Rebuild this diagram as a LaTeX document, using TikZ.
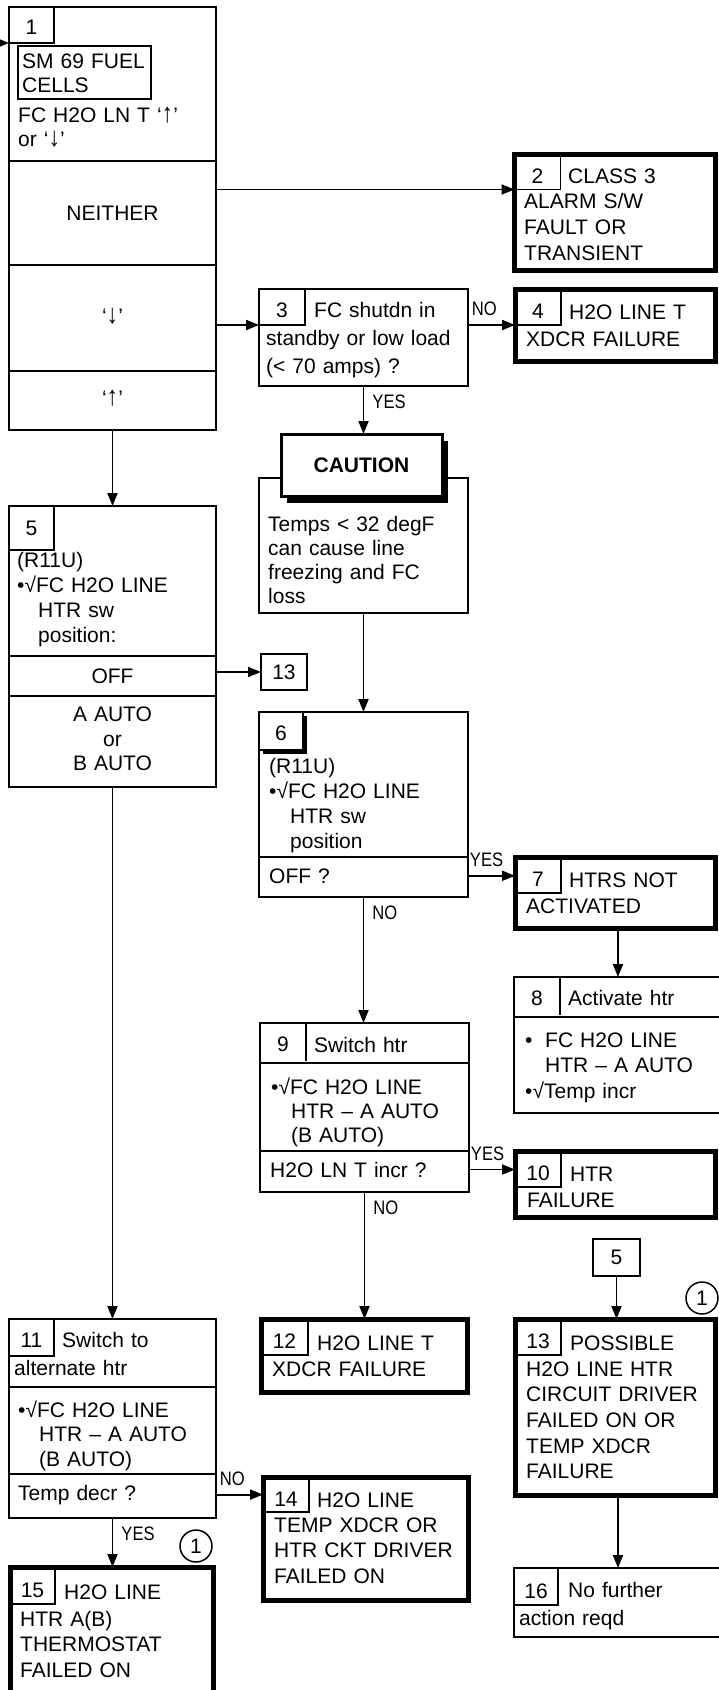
\documentclass[tikz,border=0pt]{standalone}
\usepackage{fontspec}
\setmainfont{Liberation Sans}
\newfontfamily\ynfont[FakeStretch=0.85]{Liberation Sans}
\usetikzlibrary{arrows.meta,shadows}
\newcommand\txtsize{\fontsize{21}{25.5}\selectfont}
\newcommand\tallarr[1]{\scalebox{1.1}[1.3]{#1}}
\tikzset{
  box/.style={draw, line width=2pt, inner sep=0pt, outer sep=0pt, anchor=north west},
  endbox/.style={box, line width=5pt},
  numtab/.style={draw, line width=1.3pt, inner sep=0pt, outer sep=0pt, anchor=north west,
                 minimum width=46pt, minimum height=36pt, text height=23pt, text depth=0pt},
  txt/.style={anchor=base west, inner sep=0pt, text width=200pt, align=left,
              font=\fontsize{21}{#1}\selectfont},
  txt/.default=25.5,
  divline/.style={line width=2pt},
  arr/.style={-{Triangle[length=13pt,width=10pt]}, line width=1.9pt},
  yn/.style={font=\ynfont\fontsize{19.5}{20}\selectfont, inner sep=0pt},
  hlab/.style={yn, pos=0, anchor=south west, xshift=3pt, yshift=8pt},
  vlab/.style={yn, pos=0, anchor=north west, xshift=8pt, yshift=-8pt},
  onecirc/.style={circle, draw, line width=1.5pt, inner sep=0pt, minimum size=32pt},
}
\begin{document}
\begin{tikzpicture}[x=1pt, y=-1pt, font=\txtsize]
  \useasboundingbox (0,0) rectangle (718,1690);

  % 1 fuel cells
  \node[box, minimum width=207pt, minimum height=423pt] (b1) at (9,7) {};
  \node[numtab, minimum width=45pt, text height=19pt] (t1) at (b1.north west) {1};
  \node[box, line width=1.3pt, minimum width=133pt, minimum height=53pt] (sm) at (18,46) {};
  \node[txt=24.3, text width=125pt] at (22,68.5) {SM 69 FUEL\\CELLS};
  \node[txt=24, text width=190pt] at (18,122.5) {FC H2O LN T ‘\tallarr{↑}’\\or ‘\tallarr{↓}’};
  \foreach \y in {161,265,371} \draw[divline] (9,\y) -- (216,\y);
  \node (neither) at (112.5,213) {NEITHER};
  \node (down) at (112.5,316) {‘\tallarr{↓}’};
  \node (up) at (112.5,398) {‘\tallarr{↑}’};
  \coordinate (in1) at (-6,43);
  \draw[arr] (in1) -- (t1.south west);

  % 2
  \node[endbox, minimum width=201pt, minimum height=116pt] (b2) at (514.5,154.5) {};
  \node[numtab, minimum height=35pt] (t2) at (b2.north west) {2};
  \node[txt] at (568,183) {CLASS 3};
  \node[txt=26] at (524,208.5) {ALARM S/W\\FAULT OR\\TRANSIENT};

  % 3
  \node[box, minimum width=209pt, minimum height=97pt] (b3) at (259,289) {};
  \node[numtab, text height=20pt] (t3) at (b3.north west) {3};
  \node[txt] at (314,317) {FC shutdn in};
  \node[txt=28] at (266,345) {standby or low load\\(< 70 amps) ?};

  % 4
  \node[endbox, minimum width=200pt, minimum height=72pt] (b4) at (515,289) {};
  \node[numtab] (t4) at (b4.north west) {4};
  \node[txt] at (569,319) {H2O LINE T};
  \node[txt] at (526,346) {XDCR FAILURE};

  % caution
  \node[box, minimum width=209pt, minimum height=135pt] (cb) at (259,478) {};
  \node[box, line width=3pt, fill=white, minimum width=161pt, minimum height=62pt,
        drop shadow={opacity=1, fill=black, shadow xshift=6pt, shadow yshift=-7pt}]
        (ch) at (281,434) {\bfseries CAUTION};
  \node[txt=24.3] at (268,531) {Temps < 32 degF\\can cause line\\freezing and FC\\loss};

  % 5
  \node[box, minimum width=207pt, minimum height=281pt] (b5) at (9,506) {};
  \node[numtab, minimum width=45pt, minimum height=44pt, text height=15pt] (t5) at (b5.north west) {5};
  \node[txt=25] at (17,567) {(R11U)\\•√FC H2O LINE\\\hspace*{21pt}HTR sw\\\hspace*{21pt}position:};
  \foreach \y in {656,696} \draw[divline] (9,\y) -- (216,\y);
  \node (off5) at (112.5,676) {OFF};
  \node[txt=24.5, align=center, anchor=base] at (112.5,721.5) {A AUTO\\or\\B AUTO};
  \node[box, minimum width=46pt, minimum height=36pt] (r13) at (261,654) {13};

  % 6
  \node[box, minimum width=209pt, minimum height=185pt] (b6) at (259,712) {};
  \node[numtab, minimum width=44pt, minimum height=38pt, text height=19pt, fill=white,
        drop shadow={opacity=1, fill=black, shadow xshift=3.5pt, shadow yshift=-3.5pt}]
        (t6) at (b6.north west) {6};
  \node[txt=25] at (269,773) {(R11U)\\•√FC H2O LINE\\\hspace*{21pt}HTR sw\\\hspace*{21pt}position};
  \draw[divline] (259,857) -- (468,857);
  \node[txt] (q6) at (269,883) {OFF ?};

  % 7
  \node[endbox, minimum width=200pt, minimum height=71pt] (b7) at (515,857) {};
  \node[numtab] (t7) at (b7.north west) {7};
  \node[txt] at (569,887) {HTRS NOT};
  \node[txt] at (526,913) {ACTIVATED};

  % 8
  \node[box, minimum width=208pt, minimum height=136pt] (b8) at (514,977) {};
  \draw[divline] (514,1017) -- (722,1017);
  \draw[line width=1.3pt] (560,977) -- (560,1015);
  \node (n8) at (537,998) {8};
  \node[txt] at (568,1005) {Activate htr};
  \node[txt] at (525,1047) {\makebox[20pt][l]{•}FC H2O LINE\\\hspace*{20pt}HTR – A AUTO\\•√Temp incr};

  % 9
  \node[box, minimum width=209pt, minimum height=169pt] (b9) at (260,1023) {};
  \draw[divline] (260,1063) -- (469,1063);
  \draw[line width=1.3pt] (306,1023) -- (306,1061);
  \node (n9) at (283,1044) {9};
  \node[txt] at (314,1052) {Switch htr};
  \node[txt=24] at (271,1094) {•√FC H2O LINE\\\hspace*{20pt}HTR – A AUTO\\\hspace*{20pt}(B AUTO)};
  \draw[divline] (260,1151) -- (469,1151);
  \node[txt] (q9) at (270,1177) {H2O LN T incr ?};

  % 10
  \node[endbox, minimum width=200pt, minimum height=66pt] (b10) at (515,1151) {};
  \node[numtab] (t10) at (b10.north west) {10};
  \node[txt] at (570,1181) {HTR};
  \node[txt] at (527,1207) {FAILURE};

  % 12
  \node[endbox, minimum width=206pt, minimum height=73pt] (b12) at (261,1319) {};
  \node[numtab, minimum width=47pt] (t12) at (b12.north west) {12};
  \node[txt] at (317,1350) {H2O LINE T};
  \node[txt] at (272,1376) {XDCR FAILURE};

  % 13
  \node[box, minimum width=47pt, minimum height=37pt] (r5) at (593,1239) {5};
  \node[onecirc] (c13) at (702,1298) {1};
  \node[endbox, minimum width=200pt, minimum height=176pt] (b13) at (515,1319) {};
  \node[numtab] (t13) at (b13.north west) {13};
  \node[txt] at (570,1350) {POSSIBLE};
  \node[txt=25.7] at (526,1376) {H2O LINE HTR\\CIRCUIT DRIVER\\FAILED ON OR\\TEMP XDCR\\FAILURE};

  % 16
  \node[box, minimum width=208pt, minimum height=69pt] (b16) at (514,1568) {};
  \node[numtab, minimum width=44pt, minimum height=37pt] (t16) at (b16.north west) {16};
  \node[txt] at (568,1597) {No further};
  \node[txt] at (519,1625) {action reqd};

  % 11
  \node[box, minimum width=207pt, minimum height=199pt] (b11) at (9,1319) {};
  \node[numtab, minimum width=45pt, minimum height=37pt, text height=19pt] (t11) at (b11.north west) {11};
  \node[txt] at (62,1347) {Switch to};
  \node[txt] at (14,1375) {alternate htr};
  \draw[divline] (9,1387) -- (216,1387);
  \node[txt=24.5] at (18,1417) {•√FC H2O LINE\\\hspace*{21pt}HTR – A AUTO\\\hspace*{21pt}(B AUTO)};
  \draw[divline] (9,1474) -- (216,1474);
  \node[txt] (q11) at (18,1500) {Temp decr ?};

  % 14
  \node[endbox, minimum width=205pt, minimum height=123pt] (b14) at (263,1477) {};
  \node[numtab, minimum height=35pt] (t14) at (b14.north west) {14};
  \node[txt] at (317,1507) {H2O LINE};
  \node[txt] at (274,1532) {TEMP XDCR OR\\HTR CKT DRIVER\\FAILED ON};

  % 15
  \node[onecirc] (c15) at (196,1546) {1};
  \node[endbox, minimum width=203pt, minimum height=140pt] (b15) at (10,1567) {};
  \node[numtab, minimum width=45pt, minimum height=37pt] (t15) at (b15.north west) {15};
  \node[txt] at (64,1599) {H2O LINE};
  \node[txt] at (20,1626) {HTR A(B)\\THERMOSTAT\\FAILED ON};

  % connectors
  \draw[arr] (b1.east |- t2.south west) -- (t2.south west);
  \draw[arr] (b1.east |- t3.south west) -- (t3.south west);
  \draw[arr] (b3.east |- t3.south west) -- node[hlab] {NO} (b4.west |- t3.south west);
  \draw[arr] (b3.south) -- node[vlab] {YES} (b3.south |- ch.north);
  \draw[arr] (cb.south) -- (b6.north);
  \draw[arr] (b6.east |- q6) -- node[hlab, xshift=-2pt] {YES} (b7.west |- q6);
  \draw[arr] (b7.south -| b8.north) -- (b8.north);
  \draw[arr] (b6.south) -- node[vlab] {NO} (b6.south |- b9.north);
  \draw[arr] (b9.east |- q9) -- node[hlab, xshift=-2pt] {YES} (b10.west |- q9);
  \draw[arr] (b9.south) -- node[vlab] {NO} (b9.south |- b12.north);
  \draw[arr] (b1.south) -- (b5.north);
  \draw[arr] (b5.east |- r13) -- (r13.west);
  \draw[arr] (b5.south) -- (b11.north);
  \draw[arr] (b11.east |- q11) -- node[hlab] {NO} (b14.west |- q11);
  \draw[arr] (b11.south) -- node[vlab] {YES} (b11.south |- b15.north);
  \draw[arr] (r5.south) -- (b13.north -| r5.south);
  \draw[arr] (b13.south -| b16.north) -- (b16.north);
\end{tikzpicture}
\end{document}
